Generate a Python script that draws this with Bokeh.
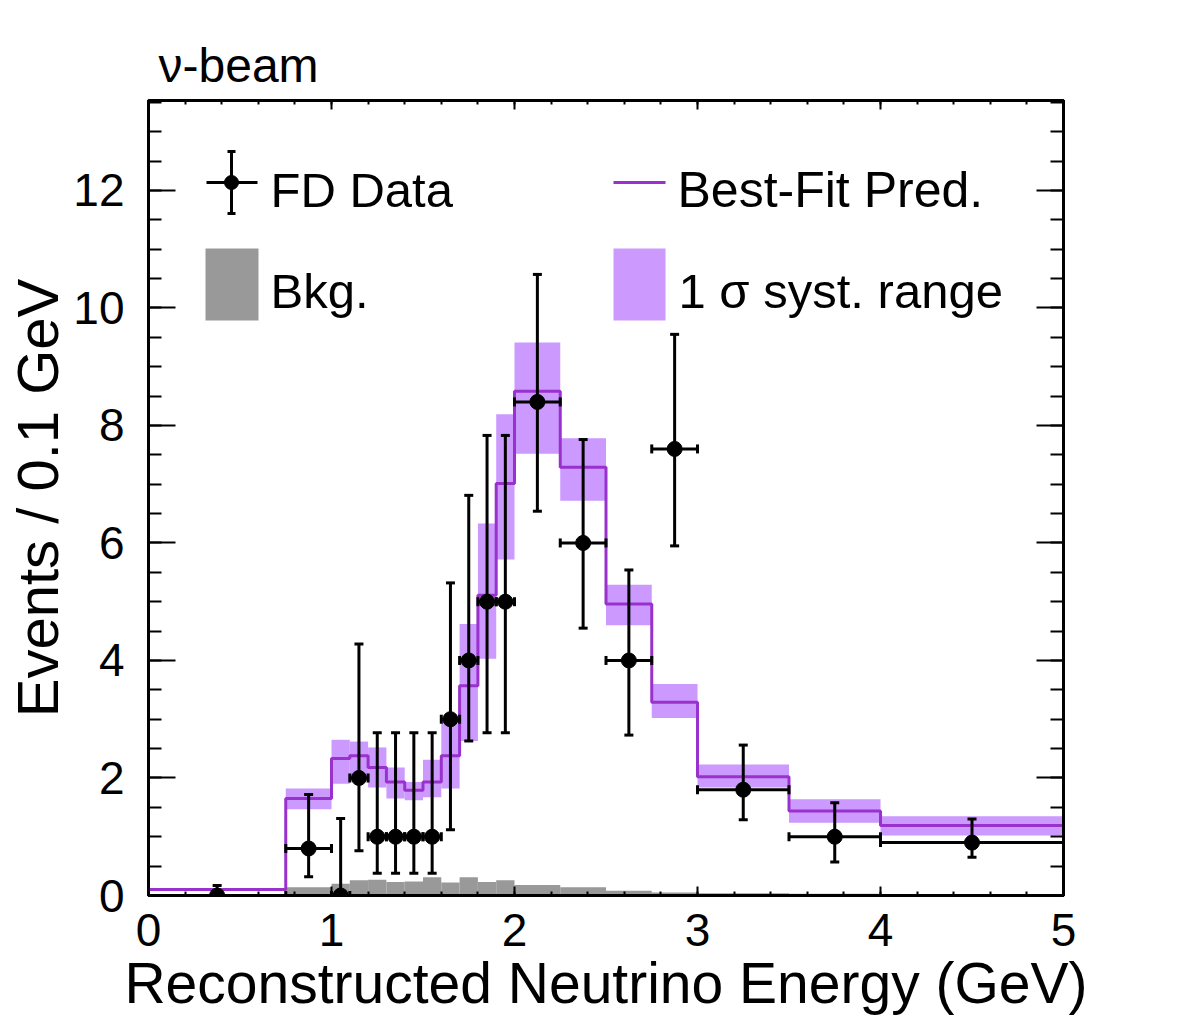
import numpy as np
from bokeh.plotting import figure
from bokeh.models import Range1d, LinearAxis, SingleIntervalTicker, Label
from bokeh.embed import file_html
from bokeh.resources import INLINE

# ---------------- data ----------------
bin_edges = [0.0, 0.75, 1.0, 1.1, 1.2, 1.3, 1.4, 1.5, 1.6, 1.7, 1.8, 1.9, 2.0,
             2.25, 2.5, 2.75, 3.0, 3.5, 4.0, 5.0]
pred = [0.10, 1.65, 2.33, 2.38, 2.18, 1.93, 1.79, 1.93, 2.38, 3.57, 5.11, 7.01,
        8.58, 7.29, 4.96, 3.29, 2.02, 1.44, 1.19]
band_lo = [0.08, 1.47, 1.90, 1.98, 1.84, 1.65, 1.62, 1.67, 1.82, 2.63, 4.03, 5.72,
           7.52, 6.72, 4.60, 3.02, 1.84, 1.24, 1.02]
band_hi = [0.12, 1.82, 2.65, 2.62, 2.52, 2.18, 1.93, 2.31, 2.95, 4.62, 6.33, 8.19,
           9.41, 7.78, 5.29, 3.60, 2.23, 1.64, 1.35]
bkg = [0.02, 0.14, 0.20, 0.26, 0.27, 0.23, 0.24, 0.31, 0.22, 0.31, 0.23, 0.26,
       0.18, 0.14, 0.08, 0.05, 0.04, 0.03, 0.02]
data_y = [0.0, 0.8, 0.0, 2.0, 1.0, 1.0, 1.0, 1.0, 3.0, 4.0, 5.0, 5.0,
          8.4, 6.0, 4.0, 7.6, 1.8, 1.0, 0.9]
data_lo = [0.0, 0.32, 0.0, 0.76, 0.38, 0.38, 0.38, 0.38, 1.12, 2.63, 2.77, 2.77,
           6.54, 4.55, 2.73, 5.95, 1.29, 0.57, 0.65]
data_hi = [0.17, 1.72, 1.31, 4.28, 2.77, 2.77, 2.77, 2.77, 5.32, 6.81, 7.83, 7.83,
           10.57, 7.76, 5.54, 9.55, 2.56, 1.58, 1.30]

x_title = "Reconstructed Neutrino Energy (GeV)"
y_title = "Events / 0.1 GeV"
beam_title = "\u03bd-beam"
legend_labels = ["FD Data", "Bkg.", "Best-Fit Pred.", "1 \u03c3 syst. range"]

# ---------------- layout constants ----------------
X0, X1, Y0, Y1 = 0.0, 5.0, 0.0, 13.53
FL, FR, FT, FB = 148, 1063, 100, 895   # frame pixel edges
FW, FH = FR - FL, FB - FT

def fx(cx):
    return X0 + (cx - FL) / FW * (X1 - X0)

def fy(cy):
    return Y0 + (FB - cy) / FH * (Y1 - Y0)

PURPLE = "#9932cc"
LAVENDER = "#cc99ff"
GREY = "#999999"
FONT = "Liberation Sans"

p = figure(frame_width=FW, frame_height=FH,
           min_border_left=FL, min_border_right=1182 - FR,
           min_border_top=FT, min_border_bottom=1017 - FB,
           x_range=Range1d(X0, X1), y_range=Range1d(Y0, Y1),
           output_backend="svg", toolbar_location=None,
           background_fill_color="white", border_fill_color="white",
           title=beam_title)
p.grid.visible = False
p.outline_line_color = "black"
p.outline_line_width = 3

p.title.text_font = FONT
p.title.text_font_size = "48px"
p.title.text_font_style = "normal"
p.title.align = "left"
p.title.offset = 10
p.title.standoff = 18
p.title.text_color = "black"

edges = np.array(bin_edges)
left, right = edges[:-1], edges[1:]
centers = (left + right) / 2

# systematic band
p.quad(left=left, right=right, bottom=band_lo, top=band_hi,
       fill_color=LAVENDER, line_color=None)
# background
p.quad(left=left, right=right, bottom=0, top=bkg,
       fill_color=GREY, line_color=None)
# best-fit step line
sx = np.repeat(edges, 2)[1:-1]
sy = np.repeat(np.array(pred), 2)
p.line(sx, sy, line_color=PURPLE, line_width=3)

# data points with error bars
dy = np.array(data_y)
p.segment(x0=left, x1=right, y0=dy, y1=dy, line_color="black", line_width=3)
p.segment(x0=centers, x1=centers, y0=data_lo, y1=data_hi, line_color="black", line_width=3)
p.scatter(np.concatenate([centers, centers]), np.concatenate([data_lo, data_hi]),
          marker="dash", size=9, line_color="black", line_width=3)
p.scatter(np.concatenate([left, right]), np.concatenate([dy, dy]),
          marker="dash", angle=np.pi / 2, size=9, line_color="black", line_width=3)
p.scatter(centers, dy, marker="circle", size=15, fill_color="black", line_color="black")

# ---------------- axes ----------------
def style_axis(ax, is_x, labels=True):
    ax.ticker = SingleIntervalTicker(interval=1, num_minor_ticks=5) if is_x else \
        SingleIntervalTicker(interval=2, num_minor_ticks=4)
    ax.axis_line_color = "black"
    ax.axis_line_width = 3
    ax.major_tick_out = 0
    ax.minor_tick_out = 0
    ax.major_tick_in = 9 if is_x else 27
    ax.minor_tick_in = 4 if is_x else 13
    ax.major_tick_line_width = 2
    ax.minor_tick_line_width = 2
    ax.major_tick_line_color = "black"
    ax.minor_tick_line_color = "black"
    ax.major_label_text_font = FONT
    ax.major_label_text_font_size = "46px"
    ax.major_label_text_color = "black" if labels else None
    ax.axis_label_text_font = FONT
    ax.axis_label_text_font_style = "normal"
    ax.axis_label_text_color = "black"
    if not labels:
        ax.major_label_text_font_size = "0px"
        ax.major_label_standoff = 0

xb = p.xaxis[0]
yl = p.yaxis[0]
style_axis(xb, True)
style_axis(yl, False)
xb.major_label_standoff = 18
yl.major_label_standoff = 24
xb.axis_label = x_title
xb.axis_label_text_font_size = "57px"
xb.axis_label_standoff = 2
yl.axis_label = y_title
yl.axis_label_text_font_size = "58px"
yl.axis_label_standoff = 0

xt = LinearAxis()
style_axis(xt, True, labels=False)
p.add_layout(xt, "above")
yr = LinearAxis()
style_axis(yr, False, labels=False)
p.add_layout(yr, "right")

# ---------------- legend (drawn inside the frame) ----------------
TEXT_SHIFT = 16

def label(text, cx, cy, size):
    p.add_layout(Label(x=fx(cx), y=fy(cy - TEXT_SHIFT), text=text, text_font=FONT,
                       text_font_size=size, text_align="left",
                       text_baseline="alphabetic", text_color="black"))

lx, ly = 231, 182
p.segment(x0=[fx(206)], x1=[fx(257)], y0=[fy(ly)], y1=[fy(ly)], line_color="black", line_width=3)
p.segment(x0=[fx(lx)], x1=[fx(lx)], y0=[fy(151)], y1=[fy(213)], line_color="black", line_width=3)
p.scatter([fx(lx), fx(lx)], [fy(151), fy(213)], marker="dash", size=8, line_color="black", line_width=3)
p.scatter([fx(lx)], [fy(ly)], marker="circle", size=14, fill_color="black", line_color="black")
label(legend_labels[0], 270, 205, "49px")

p.quad(left=[fx(205)], right=[fx(258)], bottom=[fy(320)], top=[fy(248)],
       fill_color=GREY, line_color=None)
label(legend_labels[1], 270, 306, "49px")

p.segment(x0=[fx(613)], x1=[fx(665)], y0=[fy(182)], y1=[fy(182)], line_color=PURPLE, line_width=3)
label(legend_labels[2], 677, 205, "50px")

p.quad(left=[fx(613)], right=[fx(665)], bottom=[fy(320)], top=[fy(248)],
       fill_color=LAVENDER, line_color=None)
label(legend_labels[3], 678, 306, "49px")

open("out.html", "w").write(file_html(p, INLINE))
